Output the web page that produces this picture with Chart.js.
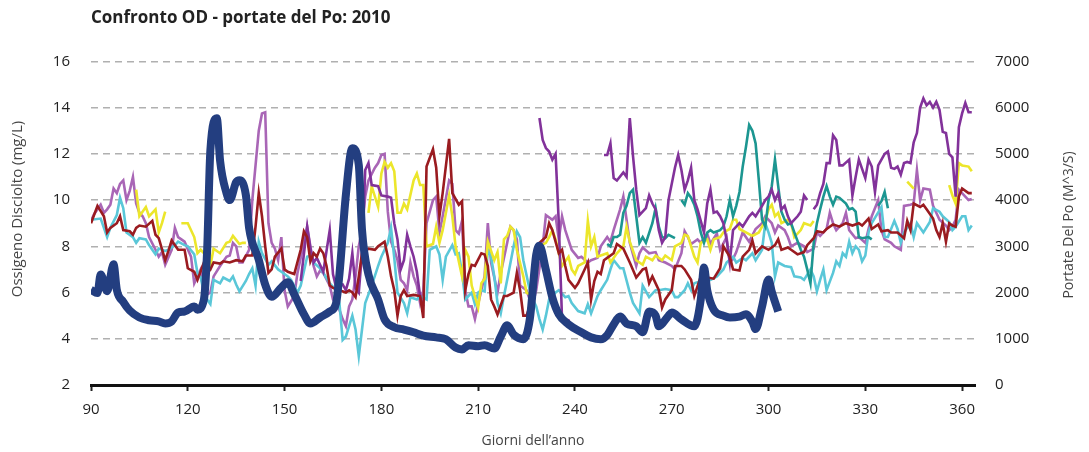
<!DOCTYPE html>
<html>
<head>
<meta charset="utf-8">
<script src="https://cdn.jsdelivr.net/npm/chart.js@4"></script>
<style>
  body { margin: 0; background: #fff; }
  #wrap { width: 1089px; height: 452px; }
</style>
</head>
<body>
<div id="wrap"><canvas id="myChart"></canvas></div>
<script>
// Portate del Po (m^3/s), asse destro
const flowDays = [90,92,93,95,97,98,100,102,105,108,111,113,115,117,119,122,123,125,126,127,129,130,132,133,135,136,138,139,142,144,146,149,151,153,156,158,161,164,166,167,169,171,173,174,176,179,181,184,187,190,193,197,200,203,205,207,210,212,215,217,219,221,224,226,228,229,231,233,235,238,242,245,248,250,252,254,256,259,261,263,265,266,269,270,273,277,279,280,281,283,286,288,291,293,295,296,298,300,301,303];
const flowValues = [2060,1990,2390,2030,2610,2060,1800,1610,1460,1400,1375,1330,1375,1570,1590,1700,1630,1850,2920,5080,5770,4860,4150,4000,4390,4430,4110,3400,2710,2170,1910,2110,2220,1960,1530,1330,1460,1590,1780,2390,4110,5120,4760,3360,2390,1850,1420,1250,1200,1140,1070,1030,990,810,770,860,840,860,790,1050,1290,1090,990,1420,2820,3010,2490,1890,1530,1310,1140,1030,990,1080,1310,1480,1330,1270,1140,1590,1500,1270,1500,1570,1420,1270,1850,2540,2050,1630,1500,1460,1480,1530,1370,1210,1700,2280,2020,1590];

// Ossigeno disciolto (mg/L), asse sinistro
const redDays = [90,92,94,95,96,98,99,100,102,103,104,105,107,109,110,111,113,114,115,117,119,120,122,123,125,127,128,130,131,133,135,137,138,140,141,142,143,144,145,146,147,149,150,151,153,155,156,157,158,159,160,161,162,163,164,165,167,169,170,171,172,173,174,176,178,179,181,182,183,184,185,186,187,188,190,192,193,194,196,197,198,199,201,202,204,205,206,207,208,209,211,212,213,214,215,216,218,219,221,222,223,224,225,227,228,229,231,232,233,235,236,237,238,240,241,243,244,245,246,247,248,249,250,252,253,255,257,259,261,262,263,264,266,267,268,270,271,273,274,276,277,279,281,283,285,286,288,289,291,292,294,295,296,298,300,302,303,304,306,307,309,311,312,314,315,317,318,320,322,324,326,328,329,331,332,334,335,337,338,340,342,343,344,345,347,348,349,351,352,353,354,355,356,357,358,359,360,362,363];
const redValues = [9.0,9.75,9.3,8.6,8.8,9.0,9.3,8.7,8.65,8.5,8.8,8.9,8.85,9.1,8.5,8.35,7.4,7.8,8.25,7.85,7.85,7.05,6.9,6.55,7.3,7.0,7.3,7.25,7.35,7.3,7.4,7.35,7.6,7.6,8.85,10.3,9.3,8.0,6.85,7.0,7.55,7.9,7.0,6.9,6.8,7.85,8.65,8.4,7.35,7.7,7.55,7.9,7.7,7.15,6.3,6.2,6.1,6.0,6.1,6.0,5.8,6.7,7.7,7.9,7.85,8.0,8.2,7.55,6.7,6.1,5.0,5.85,6.1,5.85,5.9,5.85,4.9,11.45,12.2,11.4,9.3,10.3,12.65,10.3,9.8,9.95,6.1,6.8,7.2,7.15,7.7,7.65,7.15,5.7,5.4,5.05,5.85,5.85,6.0,6.85,6.1,5.0,5.0,5.85,6.7,8.15,8.4,9.0,8.7,7.7,7.85,7.15,6.55,6.2,6.4,7.0,7.3,5.7,6.5,6.9,6.8,7.4,7.5,7.7,8.1,7.9,7.3,6.65,7.0,7.05,6.4,6.7,6.1,5.35,5.7,6.1,7.15,7.15,7.0,6.55,5.85,6.7,6.65,6.6,7.05,8.0,7.55,7.0,6.95,7.55,7.85,8.25,7.7,8.0,7.85,8.05,8.3,7.85,7.95,7.85,7.65,7.75,8.05,8.35,8.65,8.6,8.75,8.95,8.85,9.0,8.9,9.0,8.9,9.2,8.75,8.95,8.65,8.7,8.6,8.6,8.35,9.1,8.7,9.85,9.7,9.8,9.6,9.2,8.7,8.4,9.0,8.2,9.0,8.9,8.85,10.15,10.5,10.3,10.3];

const cyanDays = [90,93,95,96,98,99,100,101,103,104,105,107,108,109,110,111,113,114,116,117,119,120,122,123,124,125,126,127,128,130,131,133,134,135,136,138,139,140,141,142,143,145,146,148,149,151,152,154,155,157,158,159,161,162,164,166,167,168,169,171,172,173,174,175,177,179,180,182,183,184,185,187,188,189,191,192,194,195,197,198,199,200,202,203,204,205,206,208,209,210,211,212,213,214,215,216,217,218,219,221,222,223,224,226,227,228,229,230,231,232,234,235,237,238,239,241,243,244,245,247,248,250,251,252,254,255,257,258,260,261,263,265,266,268,270,271,272,274,275,276,277,278,280,282,284,286,287,289,290,292,293,295,296,298,299,300,301,302,303,305,307,308,310,311,313,314,315,316,317,318,320,321,322,323,324,325,326,327,328,329,330,331,332,335,336,337,339,340,341,342,344,345,346,348,350,351,353,354,356,357,358,360,361,362,363];
const cyanValues = [9.15,9.2,8.4,8.8,9.35,10.1,9.65,8.6,8.4,8.15,8.35,8.3,8.05,7.85,7.65,7.9,7.8,7.85,8.05,8.2,8.05,8.0,7.65,6.85,6.65,6.0,5.7,5.5,6.55,6.4,6.65,6.5,6.7,6.35,6.05,6.5,6.8,7.05,6.3,8.2,7.7,7.2,7.35,7.0,6.9,6.7,6.55,6.0,6.3,7.55,7.6,7.3,7.05,6.85,6.4,6.1,5.55,3.95,4.1,5.0,4.4,3.25,4.4,5.55,6.3,7.15,7.55,8.15,8.8,7.5,6.0,5.55,5.1,5.8,5.7,5.85,5.7,7.85,8.0,7.65,6.55,7.55,8.05,7.65,7.7,6.85,5.7,6.0,5.5,6.0,6.1,6.05,7.85,7.55,6.7,5.55,5.1,5.85,6.55,8.0,8.65,8.4,7.4,6.1,5.7,5.4,4.85,4.4,5.0,5.7,6.0,6.1,5.8,5.85,5.55,5.2,5.1,5.5,5.1,5.85,6.1,6.55,7.0,7.4,7.05,7.05,6.0,5.55,5.1,6.3,5.8,6.1,6.1,6.15,6.1,5.8,5.8,6.1,6.4,6.1,6.4,6.45,6.55,6.55,6.7,7.0,7.3,7.55,7.3,7.5,7.4,7.7,7.4,7.85,9.0,8.6,8.15,6.7,7.3,7.15,7.1,6.7,6.65,6.55,7.0,6.7,6.05,6.55,7.0,6.1,6.85,7.35,7.15,7.7,7.55,8.2,7.7,8.0,7.85,7.35,7.6,8.6,9.0,9.7,8.4,8.4,9.1,8.75,8.15,8.6,9.0,8.4,9.0,8.6,9.05,9.65,9.5,9.3,9.05,8.7,8.85,9.3,9.3,8.7,8.9];

const yellowDays = [104,105,107,108,110,111,112,113,115,118,120,122,123,124,126,127,128,130,132,133,134,136,137,138,139,176,177,179,180,181,182,183,184,185,186,187,188,190,191,192,193,194,196,197,198,199,201,202,203,205,206,207,208,210,211,212,213,215,216,217,218,219,220,221,222,224,225,227,228,229,231,232,233,234,235,236,238,239,240,241,243,244,245,246,247,248,250,251,253,255,256,257,259,261,262,264,265,267,268,270,271,273,274,275,277,278,279,281,282,283,285,286,288,289,290,291,293,295,297,298,299,300,301,302,303,304,306,307,308,310,311,313,314,315,343,345,346,356,357,358,359,360,362,363];
const yellowValues = [10.45,9.3,9.7,9.3,9.6,8.6,9.0,9.5,null,9.0,9.0,8.4,7.7,7.85,7.55,7.15,7.9,7.7,8.15,8.2,8.45,8.1,8.15,8.15,null,9.45,10.6,9.7,11.15,11.65,11.4,11.6,11.25,9.45,9.45,9.85,9.6,10.85,11.15,10.65,10.65,8.0,8.1,8.85,8.15,8.7,10.2,9.3,8.0,6.7,7.85,7.55,6.3,5.35,6.4,6.6,8.2,7.4,7.75,6.4,8.3,8.45,8.85,8.7,7.85,6.7,6.0,5.85,6.7,8.0,8.15,8.4,8.7,8.3,7.7,7.15,7.55,7.0,6.8,7.15,7.3,9.1,8.0,8.4,7.55,7.6,7.7,7.3,7.7,8.0,8.85,8.2,7.4,7.2,7.55,7.4,7.6,7.4,7.6,7.4,8.0,8.15,8.5,8.45,7.55,7.3,8.15,8.3,7.85,8.3,8.4,8.6,8.75,9.15,9.15,8.75,8.6,8.45,8.6,8.85,9.1,9.6,9.8,9.3,9.45,9.0,9.15,9.0,8.4,8.7,9.0,8.9,9.1,null,10.8,10.5,null,10.65,10.2,9.85,11.6,11.5,11.45,11.25];

const lilacDays = [90,91,93,94,95,96,97,98,99,100,101,102,103,104,105,106,107,108,110,111,112,113,115,116,117,119,121,122,123,124,125,127,128,130,132,133,134,135,136,137,139,140,142,143,144,145,146,147,148,149,150,151,153,154,156,157,158,159,160,161,162,164,165,167,168,169,170,171,172,173,174,175,176,178,179,180,181,182,183,184,185,186,187,188,189,190,191,192,193,194,196,197,198,199,201,202,203,204,205,206,207,208,209,210,212,213,214,216,217,219,220,221,222,223,225,226,227,228,230,231,233,234,235,236,237,239,241,242,244,245,247,248,250,251,252,254,255,256,257,259,260,261,263,265,266,268,270,271,273,274,275,276,278,279,281,282,284,285,287,288,289,290,292,294,296,298,299,301,302,303,305,306,307,309,311,312,314,315,316,318,319,320,321,323,324,325,327,328,330,331,332,334,335,336,338,339,341,342,344,345,346,347,348,350,351,352,353,355,356,357,358,359,361,362,363];
const lilacValues = [9.1,9.4,9.8,9.45,9.6,9.8,10.5,10.3,10.7,10.85,10.0,10.4,11.0,9.85,9.45,9.3,9.0,8.4,7.85,7.55,7.75,7.2,7.85,8.8,8.4,8.2,7.55,6.4,6.7,7.0,5.85,6.0,6.7,7.15,7.55,7.6,8.15,8.0,7.3,7.3,7.85,10.0,13.0,13.75,13.8,9.0,8.15,7.9,7.4,8.4,6.1,5.4,5.85,6.85,8.15,8.85,8.0,7.15,6.7,6.95,6.85,6.3,5.7,5.25,4.85,4.55,5.4,5.7,6.7,8.0,8.7,10.15,10.85,11.4,11.6,11.95,12.0,9.5,8.2,7.85,7.4,6.55,6.4,6.1,7.3,6.7,6.3,5.55,6.1,9.0,10.0,10.15,8.6,9.3,10.85,10.7,8.7,8.55,9.1,6.1,5.4,5.4,4.85,5.5,6.7,9.0,7.3,6.0,6.85,8.15,8.85,8.7,8.3,6.3,6.1,5.7,5.55,6.1,8.0,9.35,9.15,9.3,8.3,9.3,8.7,7.85,7.5,7.55,7.3,7.4,7.5,8.0,8.4,8.2,8.7,9.6,10.15,9.15,8.15,7.15,7.7,7.95,7.7,7.75,7.4,7.3,7.15,7.0,7.7,8.65,8.4,8.1,8.3,8.15,8.55,8.1,8.55,7.85,8.4,7.3,7.45,7.75,8.6,8.2,8.75,9.0,9.3,9.0,8.6,8.9,8.7,8.4,8.0,8.15,8.0,7.75,7.9,8.6,8.45,8.75,9.45,9.0,8.7,9.0,9.45,8.7,8.35,8.4,8.15,8.75,9.3,10.0,8.7,8.3,8.15,8.0,7.85,9.75,9.8,9.85,11.3,10.0,10.5,10.45,9.75,9.45,9.15,8.9,8.7,8.85,9.15,10.45,10.15,10.0,10.05];

const purpleDays = [155,157,158,159,160,162,164,165,166,168,169,170,171,172,173,174,175,176,177,179,180,182,183,184,185,186,187,188,189,190,191,192,193,194,229,230,231,232,233,234,235,236,238,239,240,249,250,251,252,253,255,256,257,258,259,260,262,263,264,265,266,267,268,269,271,272,273,274,275,276,277,278,280,281,282,283,284,285,286,287,288,289,291,292,294,295,296,298,299,300,301,302,303,304,305,306,307,309,310,311,312,313,314,315,316,317,318,319,320,321,322,323,325,326,327,328,330,331,332,333,334,336,337,338,339,340,341,342,343,344,345,346,347,348,349,350,351,352,353,354,355,356,357,358,359,360,361,362,363];
const purpleValues = [6.5,8.85,7.9,7.3,7.5,6.9,8.7,6.8,6.2,6.35,6.1,6.6,7.7,6.2,6.0,7.7,11.3,11.6,10.65,10.6,10.2,10.15,10.1,9.0,8.3,7.0,7.4,8.5,8.0,7.55,6.9,5.85,5.4,null,13.55,12.6,12.25,12.1,11.75,12.0,9.0,4.85,4.8,4.55,null,11.95,11.95,12.45,10.95,10.85,11.2,11.0,13.55,11.9,10.45,9.35,9.65,10.2,9.85,9.6,8.7,8.15,8.4,10.0,11.4,11.95,11.3,10.45,10.85,11.4,10.0,9.6,8.6,9.85,10.45,9.45,9.5,9.3,9.0,8.3,7.3,8.7,9.0,8.85,9.3,9.45,9.3,9.75,10.0,10.15,10.45,10.0,10.3,9.6,9.75,9.3,9.0,9.3,9.5,10.2,10.0,null,9.6,9.8,10.3,10.7,11.6,11.6,12.8,12.6,11.5,11.5,11.75,10.2,11.0,11.75,10.95,11.75,11.45,10.35,11.5,12.0,12.1,11.4,11.35,11.45,11.1,11.6,11.65,11.6,12.5,12.9,14.0,14.4,14.1,14.25,14.0,14.25,13.9,12.95,12.9,12.0,11.85,10.15,13.15,13.75,14.2,13.8,13.8];

const tealDays = [250,251,252,253,254,255,256,257,258,259,260,261,262,264,265,266,267,268,269,271,272,273,274,275,276,277,278,279,280,281,282,283,285,286,287,288,289,290,291,292,293,294,295,296,297,298,299,300,301,302,303,304,305,306,307,308,310,311,312,313,314,315,316,317,318,319,320,321,322,324,325,326,327,328,329,331,332,333,334,335,336,337];
const tealValues = [8.1,8.0,8.4,8.4,8.5,9.45,9.75,10.3,10.45,9.3,8.15,8.4,8.15,9.0,9.65,8.85,8.4,8.35,8.5,8.35,null,10.0,9.8,10.3,10.1,9.8,9.3,8.6,8.15,8.6,8.7,8.6,8.7,8.85,9.3,10.0,9.3,9.75,10.35,11.45,12.3,13.25,13.0,12.45,10.85,9.15,8.85,10.0,10.6,11.75,10.6,9.5,9.15,8.95,9.0,8.6,7.85,7.55,7.0,6.4,8.15,9.0,9.6,10.15,10.6,10.15,9.8,10.15,10.1,9.85,9.6,9.65,9.5,8.4,8.35,8.4,8.3,null,9.75,9.95,10.35,9.65];

const dayTicks = [90, 120, 150, 180, 210, 240, 270, 300, 330, 360];
const chartTitle = 'Confronto OD - portate del Po: 2010';
const leftTitle = 'Ossigeno Disciolto (mg/L)';
const rightTitle = 'Portate Del Po (M^3/S)';
const bottomTitle = 'Giorni dell\u2019anno';

const pts = (days, vals) => days.map((d, i) => ({ x: d, y: vals[i] }));

function doLine(label, days, vals, color) {
  return {
    label: label,
    data: pts(days, vals),
    borderColor: color,
    borderWidth: 2.6,
    pointRadius: 0,
    tension: 0,
    spanGaps: false,
    yAxisID: 'y'
  };
}

// titoli verticali disegnati a mano (quello di destra si legge dal basso)
const sideTitles = {
  id: 'sideTitles',
  afterDraw(chart) {
    const c = chart.ctx;
    c.save();
    c.fillStyle = '#444';
    c.textAlign = 'center';
    c.textBaseline = 'middle';
    c.font = "15px 'Open Sans'";
    c.translate(18, 209);
    c.rotate(-Math.PI / 2);
    c.fillText(leftTitle, 0, 0);
    c.restore();
    c.save();
    c.fillStyle = '#444';
    c.textAlign = 'center';
    c.textBaseline = 'middle';
    c.font = "14px 'Open Sans'";
    c.translate(1069, 225);
    c.rotate(-Math.PI / 2);
    c.fillText(rightTitle, 0, 0);
    c.restore();
  }
};

Chart.defaults.font.family = "'Open Sans', sans-serif";
Chart.defaults.color = '#222';

const ctx = document.getElementById('myChart');
new Chart(ctx, {
  type: 'line',
  data: {
    datasets: [
      {
        label: 'Portata',
        data: pts(flowDays, flowValues),
        borderColor: '#233e80',
        borderWidth: 8,
        pointRadius: 0,
        cubicInterpolationMode: 'monotone',
        yAxisID: 'y2'
      },
      doLine('S5', redDays, redValues, '#9a1b20'),
      doLine('S6', purpleDays, purpleValues, '#82329a'),
      doLine('S4', tealDays, tealValues, '#1c9691'),
      doLine('S3', yellowDays, yellowValues, '#ece62b'),
      doLine('S2', cyanDays, cyanValues, '#5ac7d8'),
      doLine('S1', lilacDays, lilacValues, '#a966b6')
    ]
  },
  plugins: [sideTitles],
  options: {
    responsive: true,
    maintainAspectRatio: false,
    animation: false,
    layout: { padding: 0 },
    plugins: {
      legend: { display: false },
      tooltip: { enabled: false },
      title: {
        display: true,
        text: chartTitle,
        align: 'start',
        fullSize: false,
        color: '#222',
        font: { size: 17, weight: 'bold' },
        padding: { top: 8, bottom: 33 }
      }
    },
    scales: {
      x: {
        type: 'linear',
        min: 90,
        max: 364,
        afterFit(scale) { scale.height = 67; },
        afterBuildTicks(scale) { scale.ticks = dayTicks.map(v => ({ value: v })); },
        ticks: { font: { size: 15 }, padding: 10, maxRotation: 0, autoSkip: false },
        grid: { drawOnChartArea: false, drawTicks: true, tickLength: 6, tickColor: '#222', tickWidth: 2 },
        border: { display: true, color: '#111', width: 3 },
        title: {
          display: true,
          text: bottomTitle,
          color: '#444',
          font: { size: 14 },
          padding: { top: 0, bottom: 3 }
        }
      },
      y: {
        position: 'left',
        min: 2,
        max: 16,
        afterFit(scale) { scale.width = 91; },
        ticks: { stepSize: 2, font: { size: 15 }, padding: 21 },
        grid: { color: '#b0b0b0', lineWidth: 1.4, drawTicks: false },
        border: { display: false, dash: [7, 5] }
      },
      y2: {
        position: 'right',
        min: 0,
        max: 7000,
        afterFit(scale) { scale.width = 114; },
        ticks: { stepSize: 1000, font: { size: 15 }, padding: 20, callback: v => String(v) },
        grid: { display: false, drawTicks: false },
        border: { display: false }
      }
    }
  }
});
</script>
</body>
</html>
